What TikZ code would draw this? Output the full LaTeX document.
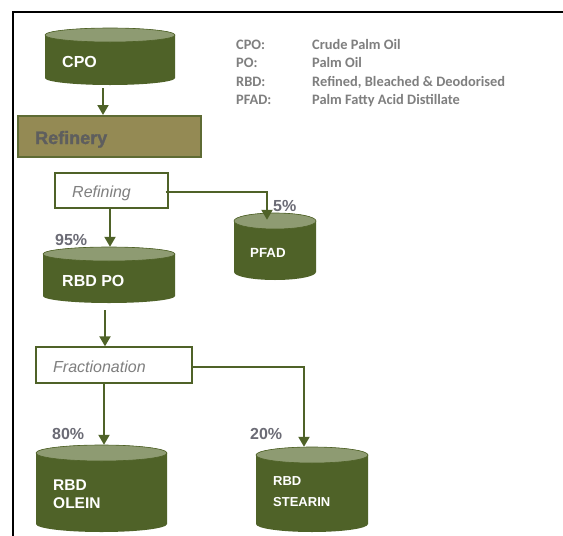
\documentclass[tikz,border=0pt]{standalone}
\usepackage{fontspec}
\setmainfont{Liberation Sans}
\newfontfamily\legfont{Carlito}
\newfontfamily\heavyfont[BoldFeatures={FakeBold=1.5}]{Liberation Sans}
\usetikzlibrary{arrows.meta,fit}
\definecolor{olivedark}{HTML}{4F6228}
\definecolor{olivetop}{HTML}{8E9B72}
\definecolor{refbox}{HTML}{948A54}
\definecolor{refborder}{HTML}{5E6B34}
\definecolor{reftext}{HTML}{5E5E5E}
\definecolor{legtext}{HTML}{7F7F7F}
\definecolor{pcttext}{HTML}{6B6B75}
\definecolor{ittext}{HTML}{7F7F7F}
\tikzset{
  flow/.style={draw=olivedark, line width=2pt, -{Triangle[width=11pt,length=10pt]}},
  procbox/.style={draw=olivedark, line width=1.3pt, fill=white, inner sep=0},
  cylbody/.style={fill=olivedark},
  cyltop/.style={fill=olivetop, draw=olivedark, line width=0.6pt},
  cyltxt/.style={text=white, font=\bfseries\fontsize{16}{19}\selectfont, anchor=base west, inner sep=0},
  cyltxts/.style={text=white, font=\bfseries\fontsize{13.3}{16}\selectfont, anchor=base west, inner sep=0},
  pct/.style={text=pcttext, font=\bfseries\fontsize{16}{19}\selectfont, anchor=base west, inner sep=0},
  ittxt/.style={text=ittext, font=\itshape\fontsize{16}{19}\selectfont, anchor=base west, inner sep=0},
  legtxt/.style={text=legtext, font=\legfont\bfseries\fontsize{14.4}{17}\selectfont, anchor=base west, inner sep=0},
}
% name, x1, x2, ytop, ybot, ry  (y measured downward)
\newcommand\drawcyl[6]{%
  \pgfmathsetmacro\cylrx{(#3-#2)/2}%
  \pgfmathsetmacro\cylcx{(#3+#2)/2}%
  \path (#2,-#4) coordinate (#1-nw) (#3,-#5) coordinate (#1-se);
  \node[fit=(#1-nw)(#1-se), inner sep=0] (#1) {};
  \fill[cylbody] (#2,{-#4-#6}) -- (#2,{-#5+#6})
    arc[start angle=180, end angle=360, x radius=\cylrx pt, y radius=#6pt]
    -- (#3,{-#4-#6})
    arc[start angle=0, end angle=180, x radius=\cylrx pt, y radius=#6pt] -- cycle;
  \filldraw[cyltop] (\cylcx,{-#4-#6}) ellipse[x radius=\cylrx pt, y radius=#6pt];
}
\begin{document}
\begin{tikzpicture}[x=1pt,y=1pt]
\useasboundingbox (0,0) rectangle (563,-536);
\fill[white] (0,0) rectangle (563,-536);
% frame
\draw[line width=2pt] (13,-536) -- (13,-12) -- (563,-12);

% cylinders
\drawcyl{cpo}{45}{175}{28}{85}{7}
\drawcyl{rbdpo}{43}{175}{247}{303}{7}
\drawcyl{pfad}{234}{316}{213}{280}{8}
\drawcyl{olein}{36}{167}{445}{532}{8}
\drawcyl{stearin}{256}{368}{447}{532}{8}

% boxes
\node[draw=refborder, line width=2pt, fill=refbox, minimum width=183pt, minimum height=41pt, inner sep=0] (refinery) at (109.5,-136.5) {};
\node[procbox, minimum width=113pt, minimum height=35pt] (refining) at (111.5,-190.5) {};
\node[procbox, minimum width=156pt, minimum height=36pt] (fractionation) at (114,-365) {};

% connectors
\draw[flow, shorten <=3pt] ([xshift=-7pt]cpo.south) -- ([xshift=-7pt]cpo.south |- refinery.north);
\draw[flow] ([xshift=-1.5pt]refining.south) -- ([xshift=-1.5pt]refining.south |- rbdpo.north);
\draw[flow] ([xshift=-3pt,yshift=-1.5pt]refining.east) -| ([xshift=-8pt,yshift=-7pt]pfad.north);
\draw[flow, shorten <=7pt] ([xshift=-4pt]rbdpo.south) -- ([xshift=-4pt]rbdpo.south |- fractionation.north);
\draw[flow] ([xshift=-10pt]fractionation.south) -- ([xshift=-10pt]fractionation.south |- olein.north);
\draw[flow] ([yshift=-2pt]fractionation.east) -| ([xshift=-8pt]stearin.north);

% texts in shapes
\node[anchor=base west, inner sep=0, text=reftext, font=\heavyfont\bfseries\fontsize{18}{20}\selectfont] (refinerytxt) at (35,-144) {Refinery};
\node[ittxt] (refiningtxt) at (72,-197) {Refining};
\node[ittxt] (fractxt) at (53,-372) {Fractionation};
\node[cyltxt] (cpotxt) at (62,-67) {CPO};
\node[cyltxt] (rbdpotxt) at (62,-286) {RBD PO};
\node[cyltxts] (pfadtxt) at (250,-257) {PFAD};
\node[cyltxt, font=\bfseries\fontsize{15.5}{18}\selectfont] (olein1) at (53,-490) {RBD};
\node[cyltxt, font=\bfseries\fontsize{15.5}{18}\selectfont] (olein2) at (53,-508) {OLEIN};
\node[cyltxts, font=\bfseries\fontsize{13}{16}\selectfont] (stearin1) at (273,-485) {RBD};
\node[cyltxts, font=\bfseries\fontsize{13}{16}\selectfont] (stearin2) at (273,-506) {STEARIN};

% percentages
\node[pct] (p95) at (55,-245) {95\%};
\node[pct] (p5) at (273,-211) {5\%};
\node[pct] (p80) at (52,-439) {80\%};
\node[pct] (p20) at (250,-439) {20\%};

% legend
\node[legtxt] (lk1) at (236,-49) {CPO:};
\node[legtxt] (lv1) at (312,-49) {Crude Palm Oil};
\node[legtxt] (lk2) at (236,-67.5) {PO:};
\node[legtxt] (lv2) at (312,-67.5) {Palm Oil};
\node[legtxt] (lk3) at (236,-86) {RBD:};
\node[legtxt] (lv3) at (312,-86) {Refined, Bleached \& Deodorised};
\node[legtxt] (lk4) at (236,-104.5) {PFAD:};
\node[legtxt] (lv4) at (312,-104.5) {Palm Fatty Acid Distillate};
\end{tikzpicture}
\end{document}
